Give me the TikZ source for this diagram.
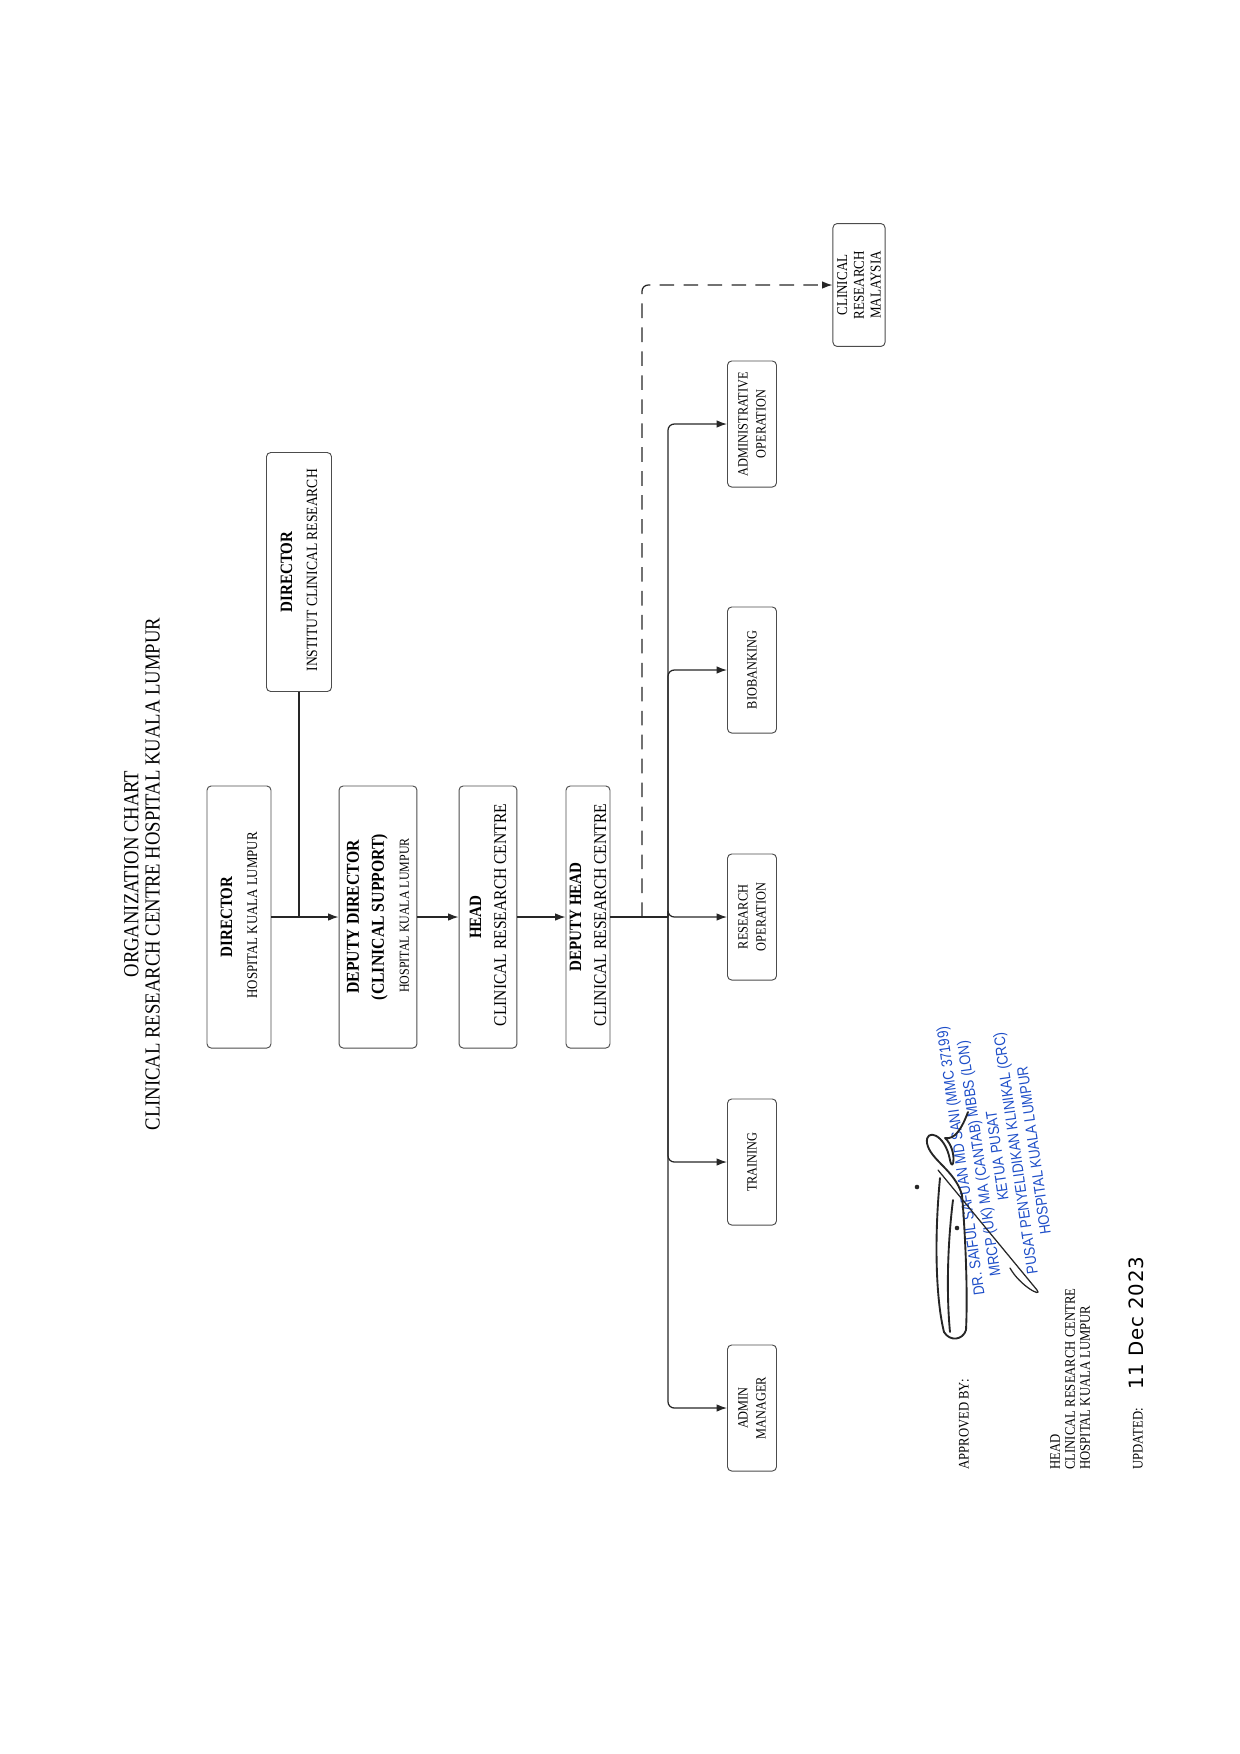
\documentclass[tikz,border=0pt]{standalone}
\usepackage{fontspec}
\setmainfont[FakeStretch=0.87]{Liberation Serif}
\newfontfamily\stampfont[FakeStretch=0.85]{Liberation Sans}
\newfontfamily\handfont[LetterSpace=4]{DejaVu Sans}
\usetikzlibrary{
  arrows.meta,
  calc
}
\definecolor{stampblue}{RGB}{30,78,200}
\newcommand{\sizept}[2]{\fontsize{#1}{#2}\selectfont}

\begin{document}
\begin{tikzpicture}[
  x=0.48pt, y=-0.48pt,
  post/.style={
    rectangle, rounded corners=2pt, draw=black!70, line width=0.45pt,
    rotate=90, align=center, inner sep=1pt, minimum width=125.8pt
  },
  unit/.style={post, minimum width=60.5pt, minimum height=23.5pt,
    font=\sizept{6.8}{8.6}},
  link/.style={line width=0.6pt, black!85},
  arr/.style={link, -{Latex[length=5pt, width=3.6pt]}},
  dasharr/.style={arr, dash pattern=on 7pt off 4.5pt},
  note/.style={rotate=90, anchor=west, align=left, inner sep=0pt,
    font=\sizept{7}{7.2}},
  sig/.style={line width=0.9pt, black!85, line cap=round, line join=round},
]
\useasboundingbox (0,0) rectangle (1240,1754);

% Title
\node[rotate=90, align=center, font=\sizept{10.3}{10.2}] (title) at (142,874)
  {ORGANIZATION CHART\\CLINICAL RESEARCH CENTRE HOSPITAL KUALA LUMPUR};

% Chain of posts
\node[post, minimum height=30.7pt] (dirhkl) at (239,917)
  {{\sizept{8.3}{8}\bfseries DIRECTOR}\\{\sizept{7.1}{8} HOSPITAL KUALA LUMPUR}};
\node[post, minimum width=114.7pt, minimum height=31.2pt] (diricr) at (299,572)
  {{\sizept{8.3}{8}\bfseries DIRECTOR}\\{\sizept{7.5}{8} INSTITUT CLINICAL RESEARCH}};
\node[post, minimum height=37.4pt] (depdir) at (378,917)
  {{\sizept{8.7}{9.4}\bfseries DEPUTY DIRECTOR}\\
   {\sizept{8.7}{9.4}\bfseries (CLINICAL SUPPORT)}\\
   {\sizept{6.6}{8.6} HOSPITAL KUALA LUMPUR}};
\node[post, minimum height=27.8pt] (head) at (488,917)
  {{\sizept{8.3}{12}\bfseries HEAD}\\{\sizept{8.6}{12} CLINICAL RESEARCH CENTRE}};
\node[post, minimum height=21.1pt] (dephead) at (588,917)
  {{\sizept{8.3}{8.8}\bfseries DEPUTY HEAD}\\{\sizept{8.6}{8.8} CLINICAL RESEARCH CENTRE}};

% Units under the deputy head
\node[unit] (adminop) at (752,424) {ADMINISTRATIVE\\OPERATION};
\node[unit] (biobank) at (752,670) {BIOBANKING};
\node[unit] (resop) at (752,917) {RESEARCH\\OPERATION};
\node[unit] (training) at (752,1162) {TRAINING};
\node[unit] (adminmgr) at (752,1408) {ADMIN\\MANAGER};
\node[unit, minimum width=59pt, minimum height=25pt, font=\sizept{7.2}{8}] (crm)
  at (859,285) {CLINICAL\\RESEARCH\\MALAYSIA};

% Connectors
\coordinate (dashsplit) at (642,917);
\coordinate (split) at (668,917);
\draw[arr] (dirhkl.south) -- (depdir.north);
\draw[link] (diricr.west) -- (diricr.west |- dirhkl.south);
\draw[arr] (depdir.south) -- (head.north);
\draw[arr] (head.south) -- (dephead.north);
\draw[link] (dephead.south) -- (split);
\foreach \u in {adminop,biobank,resop,training,adminmgr}
  \draw[arr, rounded corners=3pt] (split) |- (\u.north);
\draw[dasharr, rounded corners=3pt] (dashsplit) |- (crm.north);

% Approval block
\node[note] (approved) at (964,1470) {APPROVED BY:};
\node[note] (headnote) at (1070,1470)
  {HEAD\\CLINICAL RESEARCH CENTRE\\HOSPITAL KUALA LUMPUR};
\node[note] (updated) at (1138,1470) {UPDATED:};
\node[rotate=90, anchor=west, inner sep=0pt, font=\handfont\sizept{9.5}{10}] (date)
  at (1136,1390) {11 Dec 2023};

% Stamp
\node[rotate=98, align=center, inner sep=0pt, text=stampblue,
      font=\stampfont\sizept{7.4}{8.9}] (stamp) at (997,1156)
  {DR. SAIFUL SAFUAN MD SANI (MMC 37199)\\MRCP (UK) MA (CANTAB) MBBS (LON)\\
   KETUA PUSAT\\PUSAT PENYELIDIKAN KLINIKAL (CRC)\\HOSPITAL KUALA LUMPUR};

% Signature
\draw[sig] (940,1178) .. controls (934,1240) and (936,1300) .. (944,1332)
  .. controls (950,1342) and (963,1340) .. (966,1330)
  .. controls (968,1290) and (965,1230) .. (962,1195);
\draw[sig] (950,1332) .. controls (946,1290) and (948,1240) .. (953,1200);
\draw[sig] (962,1195) .. controls (955,1170) and (930,1160) .. (927,1143)
  .. controls (925,1128) and (945,1133) .. (950,1160)
  .. controls (953,1175) and (958,1150) .. (945,1138)
  .. controls (955,1140) and (962,1128) .. (968,1112);
\draw[sig, line width=0.6pt] (938,1170) -- (1037,1290)
  .. controls (1043,1298) and (1020,1286) .. (1010,1268);
\fill[black!85] (917,1187) circle (1.1pt) (957,1228) circle (1.1pt);

\end{tikzpicture}
\end{document}
